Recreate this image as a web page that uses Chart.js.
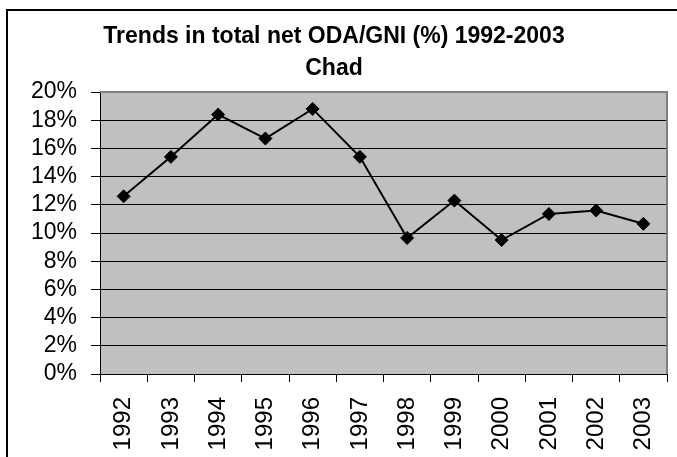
<!DOCTYPE html>
<html>
<head>
<meta charset="utf-8">
<script src="https://cdn.jsdelivr.net/npm/chart.js@4/dist/chart.umd.min.js"></script>
<style>
  html, body { margin: 0; padding: 0; background: #fff; }
  #wrap { width: 677px; height: 457px; }
</style>
</head>
<body>
<div id="wrap"><canvas id="chart" width="677" height="457"></canvas></div>
<script>
const years = ['1992', '1993', '1994', '1995', '1996', '1997', '1998', '1999', '2000', '2001', '2002', '2003'];
const odaGni = [12.6, 15.4, 18.4, 16.7, 18.8, 15.4, 9.65, 12.3, 9.5, 11.35, 11.6, 10.65];
const titleLines = ['Trends in total net ODA/GNI (%) 1992-2003', 'Chad'];

const fontFamily = "'Liberation Sans', Arial, sans-serif";

// grey plot background, grey top/right frame, outer chart border and title
const frame = {
    id: 'frame',
    beforeDraw(chart) {
        const { ctx, chartArea: a } = chart;
        ctx.save();
        ctx.fillStyle = '#c0c0c0';
        ctx.fillRect(a.left, a.top, a.right - a.left, a.bottom - a.top);
        ctx.restore();
    },
    afterDraw(chart) {
        const { ctx, chartArea: a } = chart;
        ctx.save();
        ctx.strokeStyle = '#808080';
        ctx.lineWidth = 2;
        ctx.beginPath();
        ctx.moveTo(a.left, a.top);
        ctx.lineTo(a.right, a.top);
        ctx.lineTo(a.right, a.bottom);
        ctx.stroke();

        ctx.strokeStyle = '#000';
        ctx.lineWidth = 2;
        ctx.beginPath();
        ctx.moveTo(7, chart.height);
        ctx.lineTo(7, 10);
        ctx.lineTo(chart.width, 10);
        ctx.stroke();

        ctx.fillStyle = '#000';
        ctx.font = 'bold 23px ' + fontFamily;
        ctx.textAlign = 'center';
        ctx.textBaseline = 'alphabetic';
        ctx.fillText(titleLines[0], 334, 43);
        ctx.fillText(titleLines[1], 334, 75);
        ctx.restore();
    }
};

new Chart(document.getElementById('chart'), {
    type: 'line',
    data: {
        labels: years,
        datasets: [{
            data: odaGni,
            borderColor: '#000',
            borderWidth: 2,
            pointStyle: 'rectRot',
            pointRadius: 6.5,
            pointBackgroundColor: '#000',
            pointBorderColor: '#000',
            pointBorderWidth: 1,
            tension: 0
        }]
    },
    options: {
        responsive: false,
        animation: false,
        layout: { padding: { top: 92, right: 10, left: 0, bottom: 0 } },
        plugins: {
            legend: { display: false },
            title: { display: false },
            tooltip: { enabled: false }
        },
        scales: {
            x: {
                offset: true,
                grid: {
                    offset: true,
                    drawOnChartArea: false,
                    drawTicks: true,
                    tickLength: 8,
                    color: '#000'
                },
                border: { color: '#000', width: 1 },
                ticks: {
                    color: '#000',
                    font: { family: fontFamily, size: 24 },
                    minRotation: 90,
                    maxRotation: 90,
                    autoSkip: false,
                    padding: 15
                },
                afterFit(scale) {
                    scale.height = 83;
                    scale.paddingLeft = 0;
                    scale.paddingRight = 0;
                }
            },
            y: {
                min: 0,
                max: 20,
                grid: {
                    color: '#000',
                    lineWidth: 1,
                    tickLength: 9
                },
                border: { color: '#000', width: 1 },
                ticks: {
                    stepSize: 2,
                    autoSkip: false,
                    color: '#000',
                    font: { family: fontFamily, size: 23, lineHeight: 1 },
                    padding: 14,
                    callback: v => v + '%'
                },
                afterFit(scale) {
                    scale.width = 100;
                    scale.paddingTop = 0;
                    scale.paddingBottom = 0;
                }
            }
        }
    },
    plugins: [frame]
});
</script>
</body>
</html>
